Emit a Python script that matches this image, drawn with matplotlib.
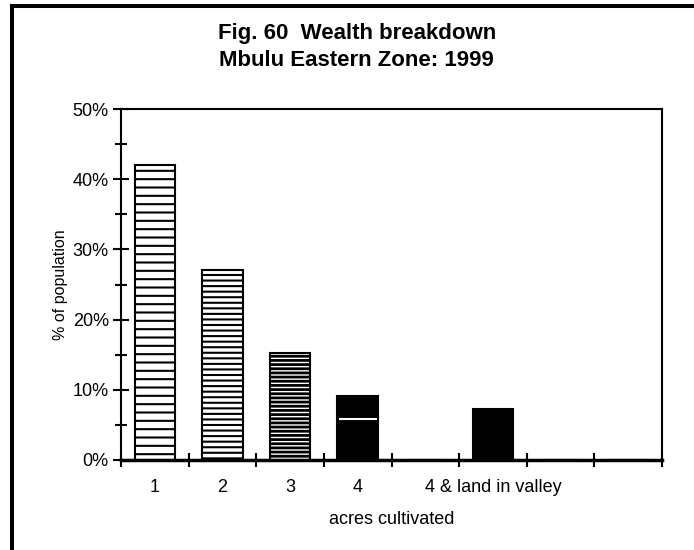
import matplotlib
matplotlib.use('Agg')
import matplotlib.pyplot as plt
from matplotlib.lines import Line2D

# data
categories = ['1', '2', '3', '4', '', '4 & land in valley', '', '']
share = [42, 27, 15.3, 9.1, 0, 7.3, 0, 0]
hatches = ['--', '---', '----', '', '', '', '', '']
hatch_lw = [1.5, 1.5, 2.0, 1.5, 1.5, 1.5, 1.5, 1.5]
fills = ['white', 'white', 'white', 'black', 'white', 'black', 'white', 'white']
stripe_at = [None, None, None, 5.8, None, None, None, None]  # white stripe in bar "4"
yticks = [0, 10, 20, 30, 40, 50]
yminor = [5, 15, 25, 35, 45]

plt.rcParams['font.family'] = 'Liberation Sans'
plt.rcParams['hatch.linewidth'] = 1.5
plt.rcParams['hatch.color'] = 'black'

fig = plt.figure(figsize=(6.94, 5.5), dpi=100)
ax = fig.add_axes([121/694, 1-460/550, 541/694, 351/550])

x = list(range(len(categories)))
bars = ax.bar(x, share, width=0.6, color=fills, edgecolor='black', linewidth=1.5)
for b, h, hl in zip(bars, hatches, hatch_lw):
    b.set_hatch(h)
    if hasattr(b, 'set_hatch_linewidth'):
        b.set_hatch_linewidth(hl)
for xi, s in zip(x, stripe_at):
    if s is not None:
        ax.hlines(s, xi - 0.28, xi + 0.28, color='white', lw=1.5)

ax.set_xlim(-0.5, len(categories) - 0.5)
ax.set_ylim(0, 50)

# x axis: ticks on slot boundaries, labels at slot centres
ax.set_xticks([i - 0.5 for i in range(len(categories) + 1)])
ax.set_xticklabels([])
ax.set_xticks(x, minor=True)
ax.set_xticklabels(categories, minor=True, fontsize=13)
ax.tick_params(axis='x', which='major', direction='inout', length=10, width=1.5)
ax.tick_params(axis='x', which='minor', length=0, pad=14)

ax.set_yticks(yticks)
ax.set_yticklabels([f'{v}%' for v in yticks], fontsize=13)
ax.set_yticks(yminor, minor=True)
ax.tick_params(axis='y', which='major', direction='inout', length=11.5, width=1.5, pad=3)
ax.tick_params(axis='y', which='minor', direction='inout', length=8.6, width=1.5)

for side in ['left', 'top', 'right']:
    ax.spines[side].set_linewidth(1.5)
ax.spines['bottom'].set_linewidth(2.5)

ax.set_xlabel('acres cultivated', fontsize=13)
ax.xaxis.set_label_coords(0.5, (460-520)/351)
ax.xaxis.label.set_va('center')
ax.set_ylabel('% of population', family=['Liberation Sans Narrow', 'Liberation Sans'], fontsize=11.5)
ax.yaxis.set_label_coords((60-121)/541, 0.5)
ax.yaxis.label.set_va('center')

fig.text(0.514, 1-39/550, 'Fig. 60  Wealth breakdown', ha='center', va='baseline',
         fontsize=16, fontweight='bold')
fig.text(0.514, 1-66/550, 'Mbulu Eastern Zone: 1999', ha='center', va='baseline',
         fontsize=16, fontweight='bold')

# frame: top and left only
fig.add_artist(Line2D([12/694, 1], [1-6/550, 1-6/550], transform=fig.transFigure,
                      color='black', lw=2.9, solid_capstyle='projecting'))
fig.add_artist(Line2D([12/694, 12/694], [0, 1-6/550], transform=fig.transFigure,
                      color='black', lw=2.9, solid_capstyle='projecting'))

fig.savefig('out.png', dpi=100)
